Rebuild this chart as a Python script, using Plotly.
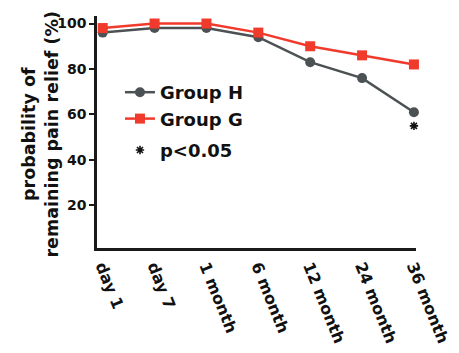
import plotly.graph_objects as go

categories = ["day 1", "day 7", "1 month", "6 month", "12 month", "24 month", "36 month"]
group_h = [96, 98, 98, 94, 83, 76, 61]
group_g = [98, 100, 100, 96, 90, 86, 82]
sig_cats = ["36 month"]
sig_vals = [55]
y_ticks = [20, 40, 60, 80, 100]

# page body has an 8px margin; figure sized so it fits in the 459x353 window
W, H = 451, 345
L, R, T, B = 89, 19, 7, 103
FONT = "DejaVu Sans"

fig = go.Figure()
fig.add_trace(go.Scatter(
    x=categories, y=group_h, name="Group H", mode="lines+markers", legendgroup="a",
    line=dict(color="#4c5254", width=2.5), cliponaxis=False,
    marker=dict(symbol="circle", size=10, color="#4c5254"),
))
fig.add_trace(go.Scatter(
    x=categories, y=group_g, name="Group G", mode="lines+markers", legendgroup="a",
    line=dict(color="#f03a2c", width=2.5), cliponaxis=False,
    marker=dict(symbol="square", size=10, color="#f03a2c"),
))
fig.add_trace(go.Scatter(
    x=sig_cats, y=sig_vals, name="p<0.05", mode="markers", legendgroup="b",
    cliponaxis=False,
    marker=dict(symbol="asterisk-open", size=7, color="#111111",
                line=dict(color="#111111", width=1.6)),
))

fig.update_layout(
    width=W, height=H,
    margin=dict(l=L, r=R, t=T, b=B),
    paper_bgcolor="white", plot_bgcolor="white",
    font=dict(family=FONT, size=14, color="#111111", weight="bold"),
    showlegend=True,
    legend=dict(x=0.072, y=0.75, xanchor="left", yanchor="top",
                bgcolor="rgba(0,0,0,0)",
                font=dict(size=18, weight="bold", family=FONT),
                itemsizing="trace", tracegroupgap=5),
    xaxis=dict(
        type="category", categoryorder="array", categoryarray=categories,
        range=[-0.11, 6.04], showgrid=False, zeroline=False,
        showline=True, linecolor="#1a1a1a", linewidth=2.5,
        ticks="", tickangle=68,
        tickfont=dict(size=16, weight="bold", family=FONT),
    ),
    yaxis=dict(
        range=[1.3, 103.3], tickvals=y_ticks, showgrid=False, zeroline=False,
        showline=True, linecolor="#1a1a1a", linewidth=2.5,
        ticks="outside", ticklen=5, tickwidth=2, tickcolor="#1a1a1a",
        tickfont=dict(size=14, weight="bold", family=FONT),
    ),
    annotations=[dict(
        text="probability of<br>remaining pain relief (%)",
        xref="paper", yref="paper", x=-0.178, y=0.49,
        xanchor="center", yanchor="middle", textangle=-90, showarrow=False,
        font=dict(size=17.5, weight="bold", family=FONT),
    )],
)

fig.write_html("out.html")
